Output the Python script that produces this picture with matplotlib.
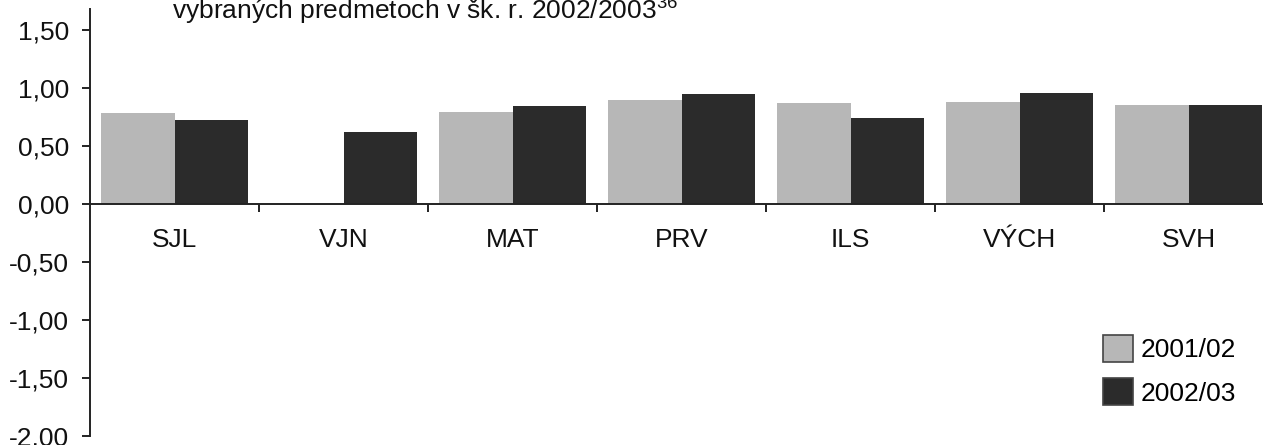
import matplotlib
matplotlib.use("Agg")
import matplotlib.pyplot as plt
import numpy as np
from matplotlib.patches import Patch

categories = ["SJL", "VJN", "MAT", "PRV", "ILS", "VÝCH", "SVH"]
series_names = ["2001/02", "2002/03"]
values_2001 = [0.78, np.nan, 0.79, 0.90, 0.87, 0.88, 0.85]
values_2002 = [0.72, 0.62, 0.84, 0.95, 0.74, 0.96, 0.85]
ytick_values = [-2.0, -1.5, -1.0, -0.5, 0.0, 0.5, 1.0, 1.5]
ytick_labels = ["-2,00", "-1,50", "-1,00", "-0,50", "0,00", "0,50", "1,00", "1,50"]

plt.rcParams['font.family'] = ['Liberation Sans', 'DejaVu Sans']

W, H = 1263, 445
fig = plt.figure(figsize=(W / 100, H / 100), dpi=100)
ax = fig.add_axes([90 / W, 9 / H, (1263 - 90) / W, (436 - 9) / H])

x = np.arange(len(categories))
bw = 0.435
c_light = "#b7b7b7"
c_dark = "#2b2b2b"
ax.bar(x - bw / 2, values_2001, bw, color=c_light, linewidth=0)
ax.bar(x + bw / 2, values_2002, bw, color=c_dark, linewidth=0)

ax.set_xlim(-0.5, 6.44)
ax.set_ylim(-2.0, 1.68)

for s in ["top", "right"]:
    ax.spines[s].set_visible(False)
ax.spines["bottom"].set_position(("data", 0))
ax.spines["left"].set_bounds(-2.0, 1.68)
for s in ["bottom", "left"]:
    ax.spines[s].set_color("#222222")
    ax.spines[s].set_linewidth(1.4)

fs = 19
ax.set_yticks(ytick_values)
ax.set_yticklabels(ytick_labels, fontsize=fs, color="#111111")
ax.tick_params(axis="y", direction="out", length=6, width=1.4, pad=9, color="#222222")

ax.set_xticks(x)
ax.set_xticklabels(categories, fontsize=fs, color="#111111")
ax.tick_params(axis="x", which="major", length=0, pad=17)
ax.set_xticks(np.arange(len(categories) - 1) + 0.5, minor=True)
ax.tick_params(axis="x", which="minor", direction="out", length=6, width=1.4, color="#222222")

handles = [Patch(facecolor=c_light, edgecolor="#444444", linewidth=1.2),
           Patch(facecolor=c_dark, edgecolor="#444444", linewidth=1.2)]
fig.legend(handles, series_names, loc="upper left",
           bbox_to_anchor=(1103 / W, 1 - 335 / H), bbox_transform=fig.transFigure,
           frameon=False, fontsize=fs, handlelength=1.12, handleheight=1.2,
           handletextpad=0.3, labelspacing=0.6, borderpad=0, borderaxespad=0)

fig.text(172 / W, 1 - 19 / H, r"vybraných predmetoch v šk. r. 2002/2003$^{\mathregular{36}}$",
         fontsize=fs, color="#111111", ha="left", va="baseline")

fig.savefig("out.png", dpi=100)
